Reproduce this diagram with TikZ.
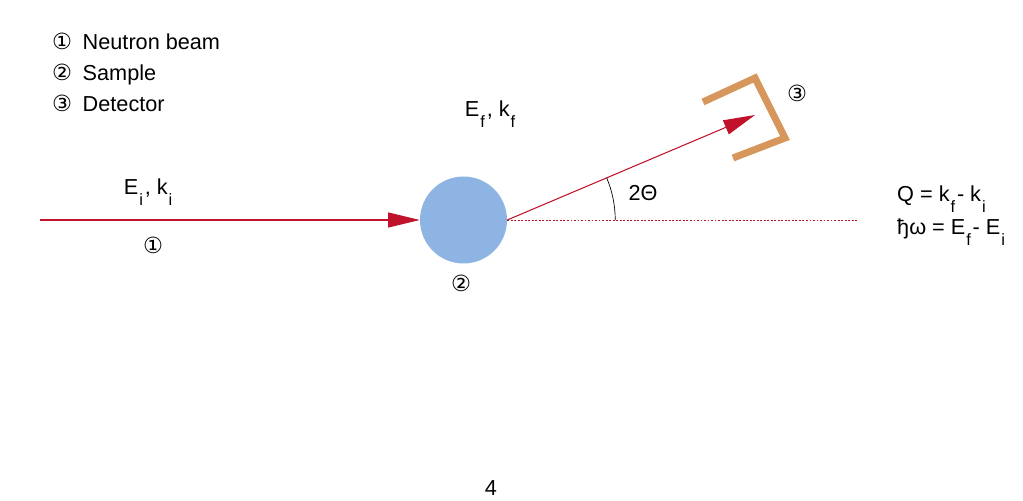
\documentclass[tikz,border=0pt]{standalone}
\usepackage{fontspec}
\setmainfont{Liberation Sans}
\newfontfamily\circfont{DejaVu Sans}
\usetikzlibrary{arrows.meta}
\definecolor{beamcolor}{RGB}{192, 18, 42}
\definecolor{samplecolor}{RGB}{142, 180, 227}
\definecolor{detcolor}{RGB}{214, 150, 92}
\newcommand{\lowidx}[1]{\kern0.8pt\raisebox{-9pt}{\fontsize{14}{15}\selectfont #1}\kern1.6pt}
\newcommand{\cnum}[1]{{\fontsize{19}{22}\selectfont\circfont #1}}

\begin{document}
\begin{tikzpicture}[
    x=0.03cm, y=0.03cm,
    every node/.style={font=\fontsize{18.5}{22}\selectfont, inner sep=0pt},
    beam/.style={beamcolor, line width=0.9pt, -{Triangle[length=0.95cm, width=0.45cm]}},
    trace/.style={beamcolor, line width=0.6pt, dash pattern=on 1.6pt off 1.4pt},
    detector/.style={detcolor, line width=6pt},
  ]
  \useasboundingbox (0, 0) rectangle (1023, 501);

  % --- Legend ---
  \node[anchor=base west] (leg1) at (52, 451) {\cnum{①}\hspace{9pt}Neutron beam};
  \node[anchor=base west] (leg2) at (52, 420) {\cnum{②}\hspace{9pt}Sample};
  \node[anchor=base west] (leg3) at (52, 389) {\cnum{③}\hspace{9pt}Detector};

  % --- Sample ---
  \node[circle, fill=samplecolor, minimum size=87*0.03cm] (sample) at (463.5, 281) {};
  \node (num2) at (461, 218) {\cnum{②}};

  % --- Incoming beam ---
  \coordinate (src) at (40, 281);
  \draw[beam] (src) -- (sample.west);
  \node[anchor=base] (ein) at (149, 306) {E\lowidx{i}, k\lowidx{i}};
  \node (num1) at (153, 256) {\cnum{①}};

  % --- Scattered beam ---
  \coordinate (tip) at (755, 386);
  \coordinate (trend) at (858, 281);
  \draw[beam] (sample.east) -- (tip);
  \draw[trace] (sample.east) -- (trend);
  \node[anchor=base] (eout) at (491, 384) {E\lowidx{f}, k\lowidx{f}};
  % Scattering angle
  \draw[line width=0.6pt] (sample.east) ++(108, 0) arc[start angle=0, end angle=23, radius=108];
  \node (angle) at (643, 308) {2Θ};

  % --- Detector ---
  \draw[detector] (703, 399) -- (755, 423) -- (785, 363) -- (733, 343);
  \node (num3) at (797, 408) {\cnum{③}};

  % --- Relations ---
  \node[anchor=base west] (qrel) at (897, 299) {Q = k\lowidx{f}- k\lowidx{i}};
  \node[anchor=base west] (wrel) at (897, 266) {ђω = E\lowidx{f}- E\lowidx{i}};

  % Page number
  \node (page) at (491, 13) {4};

\end{tikzpicture}
\end{document}
